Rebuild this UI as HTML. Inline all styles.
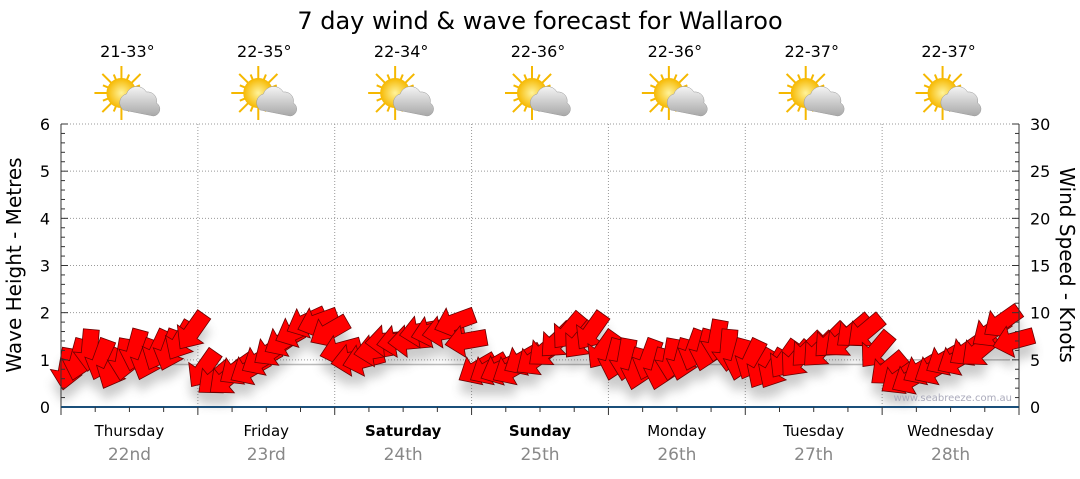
<!DOCTYPE html>
<html><head><meta charset="utf-8">
<style>
body{margin:0;background:#fff;font-family:"DejaVu Sans","Liberation Sans",sans-serif;}
svg text{font-family:"DejaVu Sans","Liberation Sans",sans-serif;}
</style></head>
<body>
<svg id="c" width="1080" height="475" xmlns="http://www.w3.org/2000/svg">
<defs>
<filter id="sh" x="-50%" y="-50%" width="200%" height="200%"><feGaussianBlur stdDeviation="5"/></filter>
<radialGradient id="sun" cx="50%" cy="50%" r="50%"><stop offset="0" stop-color="#fff39a"/><stop offset="1" stop-color="#f6b800"/></radialGradient>
<linearGradient id="cl" x1="0" y1="0" x2="0" y2="1"><stop offset="0" stop-color="#f4f4f4"/><stop offset="1" stop-color="#a8a8a8"/></linearGradient>
</defs>
<text x="540" y="29" text-anchor="middle" font-size="24" fill="#000">7 day wind &amp; wave forecast for Wallaroo</text>
<g id="grid"></g>
<g id="shadows" filter="url(#sh)" opacity="0.3"></g>
<g id="arrows"></g>
<g id="axes"></g>
<text x="1012" y="401" text-anchor="end" font-size="10" fill="#aab">www.seabreeze.com.au</text>
<text transform="translate(21,265) rotate(-90)" text-anchor="middle" font-size="20">Wave Height - Metres</text>
<text transform="translate(1060,265) rotate(90)" text-anchor="middle" font-size="20">Wind Speed - Knots</text>
</svg>
<script>
const days=["Thursday","Friday","Saturday","Sunday","Monday","Tuesday","Wednesday"];
const dates=["22nd","23rd","24th","25th","26th","27th","28th"];
const temps=["21-33°","22-35°","22-34°","22-36°","22-36°","22-37°","22-37°"];
const waveTicks=[0,1,2,3,4,5,6];
const windTicks=[0,5,10,15,20,25,30];
const windSpeed=[4,5,6,5,4,5,6,5,6,6,7,8,
4,3,3,4,4,5,6,7,8,9,9,8,
6,5,5,6,7,7,7,8,8,8,9,7,
4,4,4,4,5,5,6,7,8,7,8,6,
5,5,4,5,4,5,5,6,6,7,6,5,
5,4,4,5,5,6,6,7,7,8,8,6,
4,3,3,4,4,5,5,6,6,8,9,7];
const windDir=[100,105,95,110,115,100,105,110,115,110,120,125,
125,140,140,145,150,150,145,150,155,155,160,150,
165,170,165,170,175,170,175,170,165,170,160,170,
150,150,155,150,150,145,140,135,130,130,125,125,
105,100,105,110,105,100,105,110,105,100,95,105,
115,120,120,125,130,135,135,135,140,140,140,130,
140,145,150,150,150,150,150,145,140,145,145,165];
const waveHeight=[0.9,0.9,0.9,0.9,0.9,0.9,1.0];
const X0=61,X1=1019,Y0=407,Y1=124;
const NS="http://www.w3.org/2000/svg";
const xDay=i=>X0+(X1-X0)*i/7;
const yWave=v=>Y0-(Y0-Y1)*v/6;
const yWind=v=>Y0-(Y0-Y1)*v/30;
const xPt=i=>X0+(X1-X0)*(i+0.5)/windSpeed.length;
function mk(tag,attrs,parent){const e=document.createElementNS(NS,tag);for(const k in attrs)e.setAttribute(k,attrs[k]);parent.appendChild(e);return e;}
const svg=document.getElementById('c'),grid=document.getElementById('grid'),ax=document.getElementById('axes'),ar=document.getElementById('arrows'),shd=document.getElementById('shadows');
waveTicks.forEach(v=>{if(v>0){const l=mk('line',{x1:X0,x2:X1,y1:yWave(v),y2:yWave(v),stroke:'#999','stroke-dasharray':'1,2'},grid);

}
const t=mk('text',{x:50,y:yWave(v)+6,'text-anchor':'end','font-size':16},ax);t.textContent=v;

});
windTicks.forEach(v=>{const t=mk('text',{x:1030,y:yWind(v)+6,'font-size':16},ax);t.textContent=v;

});
for(let k=0;k<=30;k++){const y=yWind(k);mk('line',{x1:X0,x2:X0+(k%5?4:7),y1:y,y2:y,stroke:'#333'},ax);mk('line',{x1:X1,x2:X1-(k%5?4:7),y1:y,y2:y,stroke:'#333'},ax);}
mk('line',{x1:X0,x2:X0,y1:Y1,y2:Y0,stroke:'#333'},ax);mk('line',{x1:X1,x2:X1,y1:Y1,y2:Y0,stroke:'#333'},ax);
const xa=mk('line',{x1:X0,x2:X1,y1:Y0,y2:Y0,stroke:'#1a4f7a','stroke-width':2},ax);


for(let i=0;i<=28;i++){const x=X0+(X1-X0)*i/28;mk('line',{x1:x,x2:x,y1:Y0,y2:Y0+(i%4?5:8),stroke:'#333'},ax);}
days.forEach((d,i)=>{const cx=(xDay(i)+xDay(i+1))/2;
if(i>0){mk('line',{x1:xDay(i),x2:xDay(i),y1:Y1,y2:Y0,stroke:'#999','stroke-dasharray':'1,2'},grid);}
const t=mk('text',{x:cx,y:436,'text-anchor':'middle','font-size':15,'font-weight':(i==2||i==3)?'bold':'normal'},ax);t.textContent=d;


const t2=mk('text',{x:cx,y:460,'text-anchor':'middle','font-size':17,fill:'#888'},ax);t2.textContent=dates[i];


const t3=mk('text',{x:cx-2,y:57,'text-anchor':'middle','font-size':16},svg);t3.textContent=temps[i];


const g=mk('g',{transform:`translate(${cx},96)`},svg);


for(let r=0;r<16;r++){const a=r*Math.PI/8;mk('line',{x1:-8,y1:-3,x2:-8+Math.cos(a)*(r%2?20:27),y2:-3+Math.sin(a)*(r%2?20:27),stroke:'#f5b800','stroke-width':2},g);}
mk('circle',{cx:-8,cy:-3,r:15,fill:'url(#sun)'},g);
mk('path',{d:'M-6,14 a9,9 0 0,1 3,-16 a11,11 0 0,1 20,-2 a9,9 0 0,1 10,11 a7,7 0 0,1 -3,13 z',fill:'url(#cl)',stroke:'#999','stroke-width':0.5},g);
});
const wp=[];waveHeight.forEach((v,i)=>{wp.push([xDay(i)+10,yWave(v)]);wp.push([xDay(i+1)-10,yWave(v)]);});
mk('polyline',{points:wp.map(p=>p.join(',')).join(' '),fill:'none',stroke:'#bbb','stroke-width':1.5},grid);
const AP='M-21,-8 L3,-8 L3,-16 L21,0 L3,16 L3,8 L-21,8 Z';
windSpeed.forEach((v,i)=>{const x=xPt(i),y=yWind(v);
mk('path',{d:AP,fill:'#555',transform:`translate(${x},${y+12}) rotate(${windDir[i]})`},shd);
const a=mk('path',{d:AP,fill:'#ff0000',stroke:'#6a0000','stroke-width':0.8,transform:`translate(${x},${y}) rotate(${windDir[i]})`},ar);


});
</script>
</body></html>
